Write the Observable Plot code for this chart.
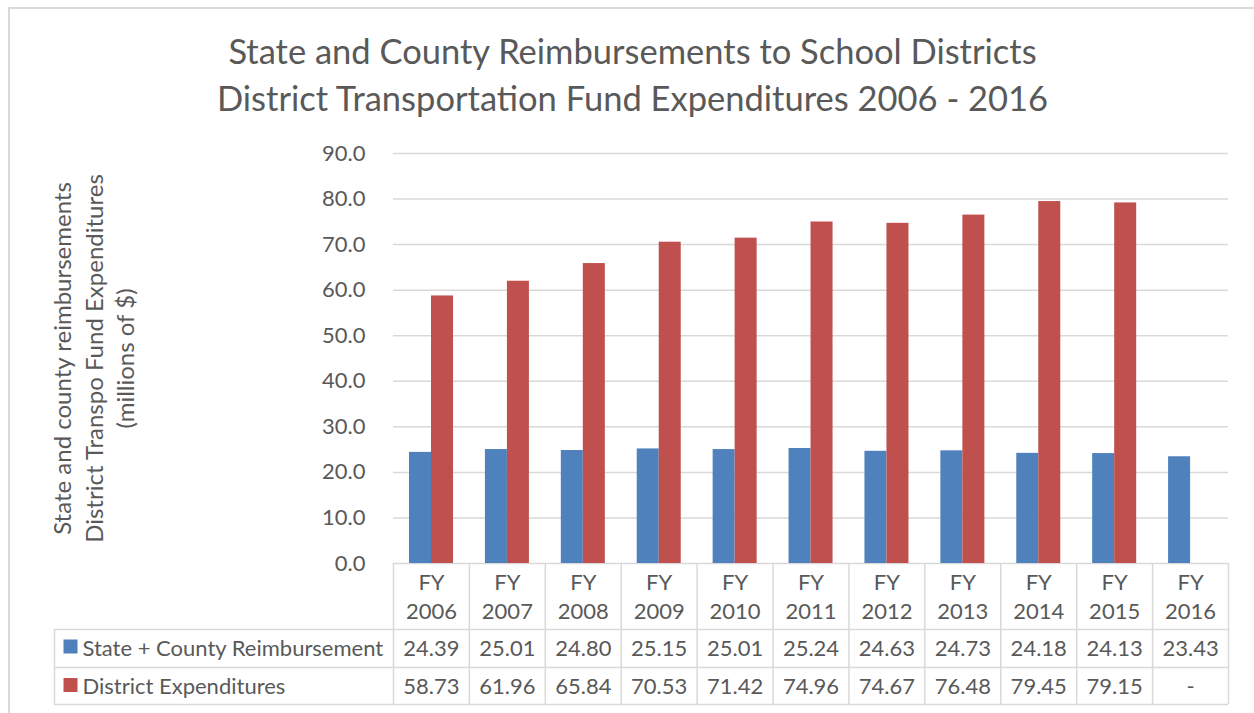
<!DOCTYPE html>
<html><head><meta charset="utf-8">
<script src="https://cdn.jsdelivr.net/npm/d3@7"></script>
<script src="https://cdn.jsdelivr.net/npm/@observablehq/plot@0.6"></script>
<style>
body{margin:0;background:#fff;font-family:Lato,sans-serif;}
#wrap{position:relative;width:1254px;height:713px;overflow:hidden;}
#border{position:absolute;left:8px;top:7px;width:1300px;height:800px;border:2px solid #d9d9d9;}
#title{position:relative;height:140px;text-align:center;color:#595959;font-size:34.5px;line-height:47px;padding-top:27px;padding-left:11px;box-sizing:border-box;}
#chart{position:relative;}
</style></head><body>
<div id="wrap"><div id="border"></div>
<div id="title">State and County Reimbursements to School Districts<br>District Transportation Fund Expenditures 2006 - 2016</div>
<div id="chart"></div></div>
<script>
const years = ["2006","2007","2008","2009","2010","2011","2012","2013","2014","2015","2016"];
const reimbursement = [24.39,25.01,24.80,25.15,25.01,25.24,24.63,24.73,24.18,24.13,23.43];
const expenditures = [58.73,61.96,65.84,70.53,71.42,74.96,74.67,76.48,79.45,79.15,null];
const seriesNames = ["State + County Reimbursement","District Expenditures"];
const seriesColors = ["#4f81bd","#c0504d"];
const yTicks = [0,10,20,30,40,50,60,70,80,90];
const yTitle = "State and county reimbursements\nDistrict Transpo Fund Expenditures\n(millions of $)";

const W = 1254, H = 573, mL = 393, mR = 26, mT = 13, mB = 150;
const step = (W - mL - mR) / years.length;
const frameH = H - mT - mB;
const barW = 22, groupOff = 16;
const grey = "#595959", lineC = "#d9d9d9";
const fs = 22;

const rows = years.map((y, i) => ({year: y, r: reimbursement[i], e: expenditures[i]}));
const tableRows = [
  {values: reimbursement, dy: 85},
  {values: expenditures, dy: 123}
];

const marks = [
  Plot.ruleY(yTicks, {y: d => d, stroke: lineC, strokeWidth: 1.5}),
  Plot.axisY({ticks: yTicks, tickFormat: d => d.toFixed(1), tickSize: 0, tickPadding: 28, fontSize: fs, color: grey, label: null}),
  Plot.barY(rows, {x: "year", y: "r", fill: seriesColors[0], insetLeft: groupOff, insetRight: step - groupOff - barW}),
  Plot.barY(rows.filter(d => d.e != null), {x: "year", y: "e", fill: seriesColors[1], insetLeft: groupOff + barW, insetRight: step - groupOff - 2 * barW}),
  // table vertical lines
  Plot.ruleX(years, {x: d => d, dx: -step / 2, insetTop: frameH, insetBottom: -141, stroke: lineC, strokeWidth: 1.5}),
  Plot.ruleX([years[years.length - 1]], {x: d => d, dx: step / 2, insetTop: frameH, insetBottom: -141, stroke: lineC, strokeWidth: 1.5}),
  Plot.ruleX([years[0]], {x: d => d, dx: -step / 2 - 339, insetTop: frameH + 66, insetBottom: -141, stroke: lineC, strokeWidth: 1.5}),
  // table horizontal lines
  ...[66, 104, 141].map(dy => Plot.ruleY([0], {y: d => d, dy, insetLeft: -339, stroke: lineC, strokeWidth: 1.5})),
  // header
  Plot.text(years, {x: d => d, frameAnchor: "bottom", dy: 32, text: d => "FY\n" + d, lineHeight: 29 / fs, lineAnchor: "middle", fontSize: fs, fill: grey}),
  // values
  ...tableRows.map(t => Plot.text(years, {x: d => d, frameAnchor: "bottom", dy: t.dy, text: (d, i) => t.values[i] == null ? "-" : t.values[i].toFixed(2), lineAnchor: "middle", fontSize: fs, fill: grey})),
  // legend keys
  ...seriesNames.map((s, i) => Plot.dot([s], {frameAnchor: "bottom-left", dx: -323, dy: [83, 121.5][i], symbol: "square", r: 7.9, fill: seriesColors[i], stroke: null})),
  ...seriesNames.map((s, i) => Plot.text([s], {frameAnchor: "bottom-left", dx: -311, dy: [85, 123][i], text: d => d, textAnchor: "start", lineAnchor: "middle", fontSize: fs, fill: grey})),
  // y title
  Plot.text([yTitle], {frameAnchor: "left", rotate: -90, dx: -301, text: d => d, textAnchor: "middle", lineHeight: 31.5 / 24, lineAnchor: "middle", fontSize: 24, fill: grey})
];

const plot = Plot.plot({
  width: W, height: H, marginLeft: mL, marginRight: mR, marginTop: mT, marginBottom: mB,
  style: {fontFamily: "Lato, sans-serif", background: "transparent", overflow: "visible"},
  x: {type: "band", domain: years, padding: 0, round: false, axis: null},
  y: {domain: [0, 90], axis: null},
  marks
});
document.getElementById("chart").appendChild(plot);
</script>
</body></html>
